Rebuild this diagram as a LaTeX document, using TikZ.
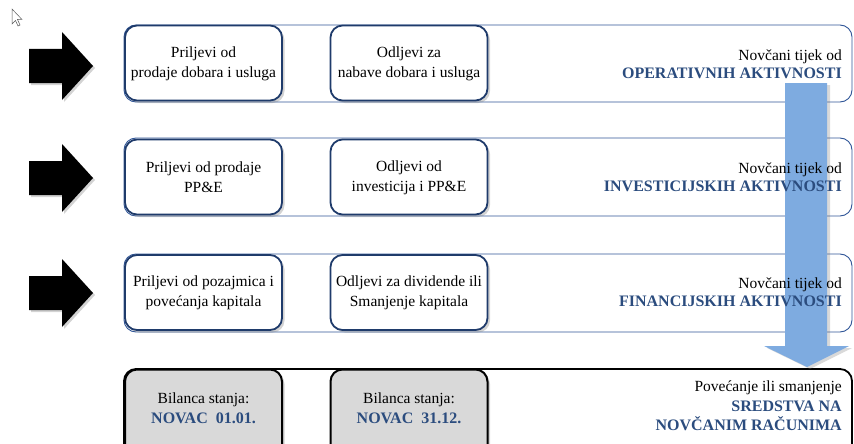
\documentclass[tikz,border=0pt]{standalone}
\usepackage{fontspec}
\setmainfont{Liberation Serif}
\usetikzlibrary{shadows}
\definecolor{frameblue}{HTML}{2F5597}
\definecolor{boxblue}{HTML}{1F3B6B}
\definecolor{txtblue}{HTML}{2B4C7E}
\definecolor{arrblue}{HTML}{7EABE0}
\definecolor{boxgray}{HTML}{D9D9D9}
\tikzset{
  frame/.style={draw=frameblue, line width=0.9pt, rounded corners=12pt},
  frameblack/.style={draw=black, line width=1.8pt, rounded corners=12pt},
  flowbox/.style={draw=boxblue, line width=1.8pt, fill=white, rounded corners=12pt,
    minimum width=157pt, minimum height=75pt, inner sep=0pt,
    drop shadow={opacity=0.35, shadow xshift=2.5pt, shadow yshift=-2.5pt}},
  cashbox/.style={draw=black, line width=2pt, fill=boxgray, rounded corners=12pt,
    minimum width=157pt, minimum height=100pt, inner sep=0pt,
    drop shadow={opacity=0.35, shadow xshift=2.5pt, shadow yshift=-2.5pt}},
  boxtxt/.style={align=center, inner sep=0pt, font=\fontsize{15.5}{20}\selectfont},
  sidetxt/.style={anchor=east, align=right, inner sep=0pt,
    font=\fontsize{15.5}{18.5}\selectfont},
  bigarrow/.style={fill=black, draw=none,
    drop shadow={opacity=0.35, shadow xshift=2pt, shadow yshift=-2pt}},
}
\newcommand{\bl}[1]{\textcolor{txtblue}{\fontsize{16}{18.5}\selectfont\textbf{#1}}}
\begin{document}
\begin{tikzpicture}[x=1pt,y=-1pt]
\useasboundingbox (0,0) rectangle (854,444);
\clip (0,0) rectangle (854,444);
% cursor
\draw[draw=gray!70!black, fill=white, line width=0.5pt]
  (12,9) -- (12,24) -- (15.5,20.5) -- (18,26) -- (20,25) -- (17.5,19.5) -- (22,19.5) -- cycle;
% outer frames
\draw[frame] (124,25) rectangle (852,102);
\draw[frame] (124,138) rectangle (852,216);
\draw[frame] (124,254) rectangle (852,332);
\draw[frameblack] (124,369) rectangle (852,470);
% black arrows
\foreach \yy in {66,178,293}{
  \path[bigarrow] (29,\yy-17) -- (62,\yy-17) -- (62,\yy-34) -- (93,\yy) -- (62,\yy+34) -- (62,\yy+17) -- (29,\yy+17) -- cycle;
}
% row boxes
\node[flowbox] (p1) at (203.5,63) {};
\node[flowbox] (o1) at (409,63) {};
\node[flowbox] (p2) at (203.5,177) {};
\node[flowbox] (o2) at (409,177) {};
\node[flowbox] (p3) at (203.5,292.5) {};
\node[flowbox] (o3) at (409,292.5) {};
\node[cashbox] (c1) at (203.5,419.5) {};
\node[cashbox] (c2) at (409,419.5) {};
\node[boxtxt] (p1t) at (203.5,64) {Priljevi od\\prodaje dobara i usluga};
\node[boxtxt] (o1t) at (409,64) {Odljevi za\\nabave dobara i usluga};
\node[boxtxt] (p2t) at (203.5,177.5) {Priljevi od prodaje\\PP\&E};
\node[boxtxt] (o2t) at (409,177.5) {Odljevi od\\investicija i PP\&E};
\node[boxtxt] (p3t) at (203.5,293) {Priljevi od pozajmica i\\povećanja kapitala};
\node[boxtxt] (o3t) at (409,293) {Odljevi za dividende ili\\Smanjenje kapitala};
\node[boxtxt] (c1t) at (203.5,408) {Bilanca stanja:\\\bl{NOVAC\ \ 01.01.}};
\node[boxtxt] (c2t) at (409,408) {Bilanca stanja:\\\bl{NOVAC\ \ 31.12.}};
% blue arrow
\path[fill=arrblue, drop shadow={opacity=0.3, shadow xshift=3pt, shadow yshift=-2pt}]
  (785,83) -- (827,83) -- (827,346) -- (849,346) -- (807,367) -- (764,346) -- (785,346) -- cycle;
% side texts
\node[sidetxt] (t1) at (842,64) {Novčani tijek od\\\bl{OPERATIVNIH AKTIVNOSTI}};
\node[sidetxt] (t2) at (842,177) {Novčani tijek od\\\bl{INVESTICIJSKIH AKTIVNOSTI}};
\node[sidetxt] (t3) at (842,292) {Novčani tijek od\\\bl{FINANCIJSKIH AKTIVNOSTI}};
\node[sidetxt, font=\fontsize{15.5}{19.5}\selectfont] (t4) at (842,406) {Povećanje ili smanjenje\\\bl{SREDSTVA NA}\\\bl{NOVČANIM RAČUNIMA}};
\end{tikzpicture}
\end{document}
